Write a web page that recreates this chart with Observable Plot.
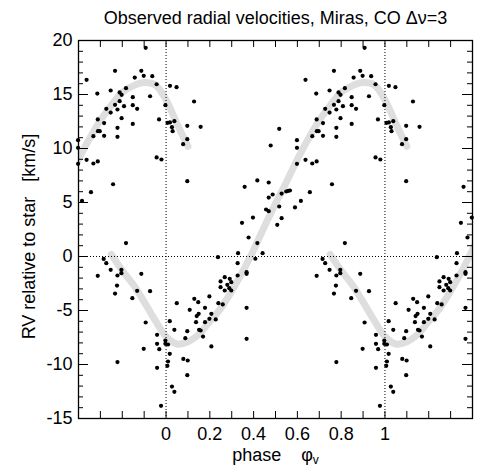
<!DOCTYPE html>
<html>
<head>
<meta charset="utf-8">
<script src="https://cdn.jsdelivr.net/npm/d3@7"></script>
<script src="https://cdn.jsdelivr.net/npm/@observablehq/plot@0.6"></script>
<style>
  body { margin: 0; background: #ffffff; }
  #chart svg { display: block; }
</style>
</head>
<body>
<div id="chart"></div>
<script>
// ---- text ----
const titleText = "Observed radial velocities, Miras, CO Δν=3";
const yLabelText = "RV relative to star\u00a0\u00a0\u00a0[km/s]";
const xLabelText = "phase\u00a0\u00a0\u00a0\u00a0φ";
const xLabelSub = "v";

// ---- observations (phase folded into [0,1), RV in km/s) ----
const obsPhase = [
  0.616,0.637,0.637,0.657,0.668,0.668,0.686,0.688,0.688,0.689,
  0.697,0.717,0.717,0.727,0.747,0.747,0.758,0.767,0.767,0.778,
  0.778,0.778,0.788,0.788,0.797,0.797,0.808,0.817,0.817,0.848,
  0.848,0.848,0.857,0.868,0.887,0.898,0.907,0.927,0.937,0.957,
  0.957,0.968,0.979,0.997,
  0.007,0.018,0.018,0.027,0.030,0.038,0.048,0.078,0.097,0.097,0.097,0.128,0.158,
  0.359,0.347,0.377,0.397,0.417,0.417,0.441,0.329,
  0.478,0.517,0.598,0.598,0.598,0.469,0.469,0.487,0.528,0.549,0.558,0.566,0.589,0.517,0.457,0.469,0.528,0.508,
  0.715,0.727,0.688,0.747,0.778,0.796,0.796,0.776,0.767,0.887,0.868,0.846,0.927,0.907,0.898,0.778,
  0.237,0.408,0.327,0.327,0.368,0.368,
  0.249,0.249,0.268,0.268,0.280,0.289,0.291,0.298,0.298,
  0.129,0.147,0.198,0.049,0.108,0.178,0.239,0.259,0.368,0.149,0.140,0.207,0.017,0.137,0.178,0.198,0.227,0.038,0.097,0.151,0.158,0.169,0.088,0.368,0.207,
  0.959,0.959,0.969,0.997,0.997,0.009,0.017,0.079,0.099,0.009,0.006,0.959,0.097,0.027,0.038,0.977
];
const obsRV = [
  5.15,16.36,8.95,5.96,11.14,8.61,15.09,12.69,8.8,11.6,
  11.6,11.17,12.35,13.67,13.33,15.37,6.69,17.19,14.04,13.61,
  11.91,11.08,15.19,14.38,14.97,12.81,13.92,15.59,1.24,14.75,
  14.01,12.28,16.57,13.67,17.19,16.73,19.32,14.84,16.7,15.95,
  9.17,12.69,8.98,14.01,
  12.38,15.8,12.41,11.97,11.6,12.53,15.68,10.4,12.1,10.86,6.97,14.35,12.01,
  6.45,3.12,1.76,3.6,7.04,1.24,0.31,0.31,
  10.28,11.82,10.77,10.06,8.58,6.85,5.46,5.74,5.83,6.02,6.08,6.11,4.54,4.63,4.35,4.2,3.55,2.93,
  -0.22,-0.62,-1.79,-1.23,-1.76,-1.23,-1.54,-2.69,-3.43,-1.6,-3.18,-3.86,-3.21,-6.11,-8.55,-9.78,
  -0.06,-0.21,-0.62,-1.76,-1.45,-1.6,
  -2.31,-2.84,-1.91,-3.15,-2.62,-2.93,-2.07,-2.38,-3.15,
  -3.92,-4.23,-3.7,-4.32,-4.94,-4.75,-4.32,-4.44,-4.75,-5.31,-5.52,-5.31,-5.99,-6.08,-6.08,-5.77,-5.83,-6.79,-6.91,-6.79,-6.85,-7.41,-7.56,-7.62,-8.33,
  -7.25,-8.09,-8.58,-7.78,-8.09,-8.15,-9.01,-9.48,-9.63,-9.72,-10.12,-10.31,-10.99,-12.04,-12.53,-13.83
];

// ---- mean velocity curve, one cycle ----
const curvePhase = [-0.25,-0.2,-0.15,-0.1,-0.05,0,0.05,0.1,0.15,0.2,0.25,0.3,0.35,0.4,0.45,0.5,0.55,0.6,0.65,0.7,0.75,0.8,0.85,0.9,0.95,1.0,1.05,1.1];
const curveRV    = [0.2,-1.3,-2.6,-4.2,-5.9,-7.4,-8.1,-7.9,-7.2,-6.0,-4.8,-3.2,-1.4,0.6,2.8,4.9,6.9,9.0,10.9,12.6,14.0,15.2,15.8,16.1,15.9,14.5,12.3,10.2];

// the folded data are repeated one cycle earlier and later
const cycleOffsets = [-1, 0, 1];

// ---- ticks ----
const xTickValues = [-0.3,-0.2,-0.1,0,0.1,0.2,0.3,0.4,0.5,0.6,0.7,0.8,0.9,1,1.1,1.2,1.3];
const xLabelValues = [0,0.2,0.4,0.6,0.8,1];
const yMinorTicks = [-14,-13,-12,-11,-9,-8,-7,-6,-4,-3,-2,-1,1,2,3,4,6,7,8,9,11,12,13,14,16,17,18,19];
const yMajorTicks = [-10,-5,0,5,10,15];
const yLabelValues = [-15,-10,-5,0,5,10,15,20];
const refX = [0, 1];
const refY = [0];

// ---- build tables ----
const xDomain = [-0.4, 1.4];
const dots = [];
obsPhase.forEach((p, i) => {
  for (const off of cycleOffsets) {
    const x = p + off;
    if (x >= xDomain[0] - 0.005 && x <= xDomain[1] + 0.005) dots.push({x, y: obsRV[i]});
  }
});
const curve = [];
for (const off of cycleOffsets) {
  curvePhase.forEach((p, j) => curve.push({x: p + off, y: curveRV[j], seg: off}));
}

const FW = 394, FH = 378; // frame size in px
const svg = Plot.plot({
  width: 479,
  height: 466,
  marginTop: 40,
  marginBottom: 48,
  marginLeft: 78,
  marginRight: 7,
  style: {fontFamily: "'Liberation Sans', Arial, Helvetica, sans-serif", fontSize: "18px", background: "#ffffff", color: "#000000", overflow: "visible"},
  x: {domain: xDomain},
  y: {domain: [-15, 20]},
  marks: [
    Plot.line(curve, {x: "x", y: "y", z: "seg", stroke: "#dedede", strokeWidth: 7, curve: "catmull-rom", strokeLinecap: "round", clip: true}),
    Plot.ruleX(refX, {stroke: "#000", strokeWidth: 1, strokeDasharray: "1,2"}),
    Plot.ruleY(refY, {stroke: "#000", strokeWidth: 1, strokeDasharray: "1,2"}),
    Plot.dot(dots, {x: "x", y: "y", r: 2.1, fill: "#000", stroke: null}),
    Plot.tickX(xTickValues, {insetTop: FH - 7, stroke: "#000"}),
    Plot.tickX(xTickValues, {insetBottom: FH - 7, stroke: "#000"}),
    Plot.tickY(yMinorTicks, {insetRight: FW - 5, stroke: "#000"}),
    Plot.tickY(yMajorTicks, {insetRight: FW - 10, stroke: "#000"}),
    Plot.tickY(yMinorTicks, {insetLeft: FW - 5, stroke: "#000"}),
    Plot.tickY(yMajorTicks, {insetLeft: FW - 10, stroke: "#000"}),
    Plot.frame({stroke: "#000", strokeWidth: 1.3}),
    Plot.axisX(xLabelValues, {tickSize: 0, tickPadding: 9, tickFormat: d => String(d), label: null, fontSize: 18}),
    Plot.axisY(yLabelValues, {tickSize: 0, tickPadding: 6, tickFormat: d => String(d), label: null, fontSize: 18}),
    Plot.text([titleText], {frameAnchor: "top", lineAnchor: "bottom", dy: -16.5, fontSize: 18}),
    Plot.text([yLabelText], {frameAnchor: "left", textAnchor: "middle", rotate: -90, lineAnchor: "bottom", dx: -43.5, dy: 7, fontSize: 18}),
    Plot.text([xLabelText], {frameAnchor: "bottom", lineAnchor: "bottom", dy: 42, fontSize: 18})
  ]
});
d3.select(svg).selectAll("text")
  .filter(function () { return this.textContent === xLabelText; })
  .append("tspan").attr("dy", 3).attr("font-size", 12).text(xLabelSub);
document.getElementById("chart").appendChild(svg);
</script>
</body>
</html>
